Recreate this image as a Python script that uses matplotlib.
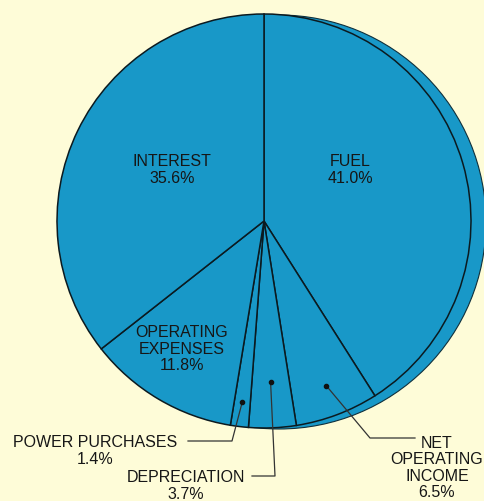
import numpy as np
import matplotlib.pyplot as plt
from matplotlib.patches import Circle

# slices, clockwise from 12 o'clock
labels = ['FUEL', 'NET\nOPERATING\nINCOME', 'DEPRECIATION', 'POWER PURCHASES',
          'OPERATING\nEXPENSES', 'INTEREST']
shares = [41.0, 6.5, 3.7, 1.4, 11.8, 35.6]

blue = '#1898c8'
cream = '#fefcd8'

plt.rcParams['font.family'] = ['Liberation Sans', 'DejaVu Sans']

fig = plt.figure(figsize=(4.85, 5.02), dpi=100, facecolor=cream)
ax = fig.add_axes([0, 0, 1, 1])
ax.set_facecolor(cream)
ax.set_xlim(0, 485)
ax.set_ylim(0, 502)
ax.set_aspect('equal')
ax.axis('off')

cx, cy, r = 264, 280, 207

# the edge of the disc showing on the right
ax.add_patch(Circle((cx + 15, cy - 1), r, facecolor=blue, edgecolor='#10303c',
                    lw=0.8, zorder=1))

wedges, _ = ax.pie(shares, startangle=90, counterclock=False, radius=r,
                   center=(cx, cy), colors=[blue] * len(shares),
                   wedgeprops=dict(edgecolor='#0b1a20', linewidth=1.1))
for w in wedges:
    w.set_zorder(2)
ax.set_xlim(0, 485)
ax.set_ylim(0, 502)

txt = dict(fontsize=11.5, color='#161616', ha='center', va='center',
           linespacing=1.12, zorder=4)

# labels inside the pie
ax.text(350, 332, 'FUEL\n41.0%', **txt)
ax.text(172, 332, 'INTEREST\n35.6%', **txt)
ax.text(182, 153, 'OPERATING\nEXPENSES\n11.8%', **txt)


def mid_point(i, frac):
    w = wedges[i]
    a = np.deg2rad((w.theta1 + w.theta2) / 2)
    return cx + frac * r * np.cos(a), cy + frac * r * np.sin(a)


lc = '#333333'

# power purchases
px, py = mid_point(3, 0.88)
ax.plot(px, py, 'o', ms=3, color='#111111', zorder=5)
ax.plot([px, 232, 188], [py, 60, 60], color=lc, lw=0.9, zorder=3)
ax.text(95, 51, 'POWER PURCHASES\n1.4%', **txt)

# depreciation
dx, dy = mid_point(2, 0.78)
ax.plot(dx, dy, 'o', ms=3, color='#111111', zorder=5)
ax.plot([dx, 275, 252], [dy, 25, 25], color=lc, lw=0.9, zorder=3)
ax.text(186, 16, 'DEPRECIATION\n3.7%', **txt)

# net operating income
nx, ny = mid_point(1, 0.85)
ax.plot(nx, ny, 'o', ms=3, color='#111111', zorder=5)
ax.plot([nx, 370, 415], [ny, 63, 63], color=lc, lw=0.9, zorder=3)
ax.text(437, 34, 'NET\nOPERATING\nINCOME\n6.5%', **txt)

fig.savefig('out.png', dpi=100, facecolor=cream)
